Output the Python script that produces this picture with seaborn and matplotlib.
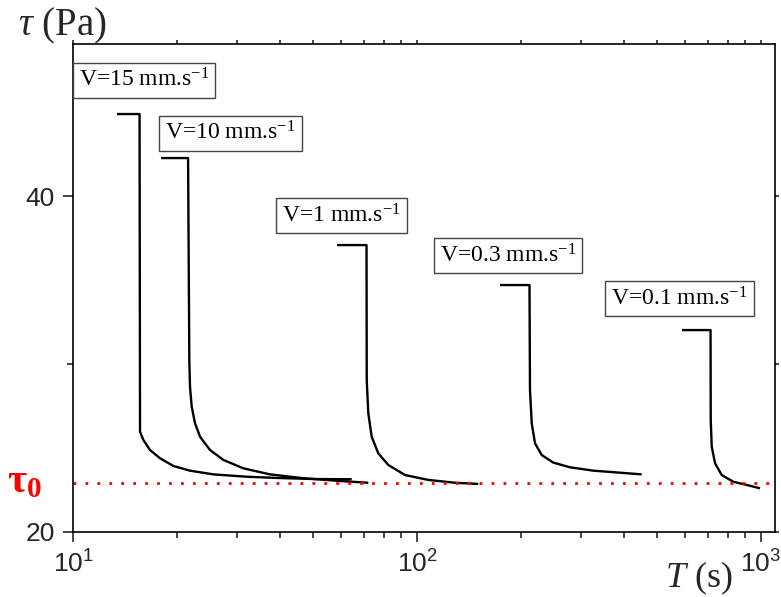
import numpy as np
import pandas as pd
import matplotlib
matplotlib.use('Agg')
import matplotlib.pyplot as plt
import matplotlib.ticker as mticker
import seaborn as sns

# Relaxation curves: time T (s) and shear stress tau (Pa)
labels = ['V=15 mm.s$^{-1}$', 'V=10 mm.s$^{-1}$', 'V=1 mm.s$^{-1}$',
          'V=0.3 mm.s$^{-1}$', 'V=0.1 mm.s$^{-1}$']

t_v15 = [13.42, 15.61, 15.66, 16.01, 16.74, 17.90, 19.57, 21.88, 25.57,
         31.98, 39.97, 51.09, 64.60]
tau_v15 = [44.88, 44.88, 25.97, 25.48, 24.88, 24.39, 23.93, 23.65, 23.43,
           23.29, 23.21, 23.15, 23.14]

t_v10 = [18.03, 21.60, 21.78, 21.88, 22.13, 22.63, 23.40, 25.02, 27.35,
         31.27, 37.38, 46.72, 58.43, 72.17]
tau_v10 = [42.26, 42.26, 30.24, 28.65, 27.46, 26.47, 25.67, 24.88, 24.29,
           23.79, 23.43, 23.20, 23.05, 22.93]

t_v1 = [58.53, 71.32, 71.42, 72.17, 73.83, 77.17, 82.51, 92.28, 107.8,
        129.0, 150.7]
tau_v1 = [37.08, 37.08, 29.05, 27.07, 25.67, 24.68, 23.99, 23.39, 23.10,
          22.93, 22.86]

t_v03 = [174.3, 212.3, 213.0, 215.5, 220.3, 230.4, 249.0, 278.5, 325.6,
         389.1, 450.0]
tau_v03 = [34.70, 34.70, 28.45, 26.47, 25.28, 24.58, 24.13, 23.85, 23.65,
           23.53, 23.43]

t_v01 = [589.3, 713.3, 714.2, 719.0, 735.1, 768.8, 830.8, 908.8, 993.4]
tau_v01 = [32.02, 32.02, 26.67, 25.08, 24.09, 23.39, 22.99, 22.80, 22.60]

tau0 = 22.9

curves = [(t_v15, tau_v15), (t_v10, tau_v10), (t_v1, tau_v1),
          (t_v03, tau_v03), (t_v01, tau_v01)]

sns.set_style('ticks')
plt.rcParams['font.family'] = ['Liberation Serif', 'DejaVu Sans']
plt.rcParams['mathtext.fontset'] = 'custom'
plt.rcParams['mathtext.rm'] = 'Liberation Serif'
plt.rcParams['mathtext.it'] = 'Liberation Serif:italic'
plt.rcParams['mathtext.bf'] = 'Liberation Serif:bold'
plt.rcParams['mathtext.sf'] = 'Liberation Sans'

fig = plt.figure(figsize=(7.81, 5.97), dpi=100)
ax = fig.add_axes([0.0935, 0.1089, 0.8988, 0.8174])

for t, tau in curves:
    df = pd.DataFrame({'T': t, 'tau': tau})
    sns.lineplot(data=df, x='T', y='tau', sort=False, estimator=None,
                 color='black', linewidth=1.7, ax=ax,
                 solid_joinstyle='round', solid_capstyle='butt')

ax.axhline(tau0, color='red', linestyle=(0, (1, 3.3)), linewidth=2)

ax.set_xscale('log')
ax.set_xlim(10, 1098)
ax.set_ylim(20, 49.05)
ax.set_xlabel('')
ax.set_ylabel('')

ax.xaxis.set_major_locator(mticker.FixedLocator([10, 100, 1000]))
ax.xaxis.set_major_formatter(mticker.FuncFormatter(
    lambda v, p: r'$\mathsf{10^{%d}}$' % round(np.log10(v))))
ax.xaxis.set_minor_locator(mticker.LogLocator(base=10, subs=np.arange(2, 10)))
ax.xaxis.set_minor_formatter(mticker.NullFormatter())
ax.yaxis.set_major_locator(mticker.FixedLocator([20, 40]))
ax.yaxis.set_minor_locator(mticker.FixedLocator([30]))

for s in ax.spines.values():
    s.set_linewidth(1.2)
    s.set_color('black')
ax.tick_params(which='major', direction='out', length=7, width=1.2,
               labelsize=19, pad=6)
ax.tick_params(which='minor', direction='out', length=4, width=1.2)
for lab in ax.get_xticklabels() + ax.get_yticklabels():
    lab.set_family('Liberation Sans')
ax.tick_params(top=True, right=True, which='both')
for tk in ax.xaxis.get_major_ticks() + ax.xaxis.get_minor_ticks():
    tk.tick2line.set_markersize(3)
for tk in ax.yaxis.get_major_ticks() + ax.yaxis.get_minor_ticks():
    tk.tick2line.set_markersize(3)

# Velocity labels in boxes
label_pos = [(0.101, 0.926), (0.2244, 0.8176), (0.3825, 0.6486),
             (0.6197, 0.5656), (0.864, 0.4785)]
for lab, (px, py) in zip(labels, label_pos):
    ax.text(px, py, lab, transform=ax.transAxes, ha='center', va='center',
            fontsize=17, color='black',
            bbox=dict(boxstyle='square,pad=0.25', fc='white', ec='#444444', lw=1))

fig.text(18 / 781, 1 - 35 / 597, r'$\tau$ (Pa)', fontsize=28, ha='left', va='baseline')
fig.text(665 / 781, 1 - 587 / 597, r'$T$ (s)', fontsize=26, ha='left', va='baseline')
fig.text(7 / 781, 1 - 482 / 597, r'$\mathbf{\tau_0}$', fontsize=30, color='red',
         ha='left', va='center', fontweight='bold')

fig.savefig('out.png', dpi=100)
